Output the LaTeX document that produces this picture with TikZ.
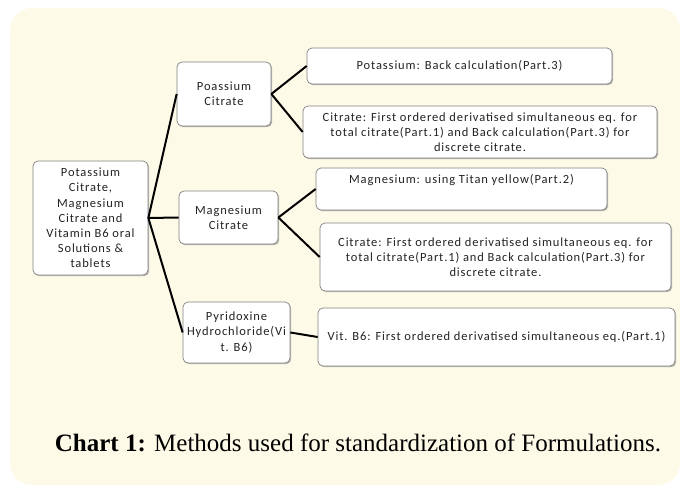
\documentclass[tikz,border=0pt]{standalone}
\usepackage{fontspec}
\setmainfont{Liberation Serif}
\newfontfamily\boxfont[LetterSpace=7]{Carlito}
\usetikzlibrary{positioning, shadows}
\definecolor{chartbg}{RGB}{254,250,232}
\definecolor{boxline}{RGB}{130,130,130}
\definecolor{boxtext}{RGB}{35,35,35}
\tikzset{main node/.style={rectangle, rounded corners=5pt, draw=boxline, line width=0.7pt, fill=white, align=center, inner sep=1pt, text=boxtext, font=\boxfont\fontsize{12.5}{15.2}\selectfont, drop shadow={shadow xshift=1.2pt, shadow yshift=-1.2pt, fill=black!45, opacity=0.6}},}

\begin{document}
\begin{tikzpicture}[x=1pt, y=-1pt, thick]
        \useasboundingbox (0,0) rectangle (690,494);
        \fill[chartbg, rounded corners=22pt] (10,8) rectangle (680,485);
        % Formulation
        \node[main node, minimum width=115pt, minimum height=114pt] (form) at (90.5,218) {Potassium\\Citrate,\\Magnesium\\Citrate and\\Vitamin B6 oral\\Solutions \&\\tablets};
        % Components
        \node[main node, minimum width=94pt, minimum height=64pt] (pota) at (224,94) {Poassium\\Citrate};
        \node[main node, minimum width=99pt, minimum height=53pt] (magn) at (228.5,217.5) {Magnesium\\Citrate};
        \node[main node, minimum width=107pt, minimum height=61pt] (pyri) at (236.5,332.5) {Pyridoxine\\Hydrochloride(Vi\\t. B6)};
        % Methods
        \node[main node, minimum width=305pt, minimum height=36pt] (potback) at (459.5,66) {Potassium: Back calculation(Part.3)};
        \node[main node, minimum width=354pt, minimum height=52pt] (citone) at (480,132) {Citrate: First ordered derivatised simultaneous eq. for\\total citrate(Part.1) and Back calculation(Part.3) for\\discrete citrate.};
        \node[main node, minimum width=291pt, minimum height=42pt] (magtitan) at (461.5,189) {Magnesium: using Titan yellow(Part.2)\\\strut};
        \node[main node, minimum width=351pt, minimum height=68pt] (cittwo) at (495.5,257) {Citrate: First ordered derivatised simultaneous eq. for\\total citrate(Part.1) and Back calculation(Part.3) for\\discrete citrate.};
        \node[main node, minimum width=357pt, minimum height=58pt] (vitb) at (496.5,337) {Vit. B6: First ordered derivatised simultaneous eq.(Part.1)};
        % Caption
        \node (caption) at (358,443) {\fontsize{25}{28}\selectfont\textbf{Chart 1:} Methods used for standardization of Formulations.};
        % Paths
        \path[draw, line width=2pt]
        (form.east) edge (pota.west)
        (form.east) edge (magn.west)
        (form.east) edge (pyri.west)
        (pota.east) edge (potback.west)
        (pota.east) edge (citone.west)
        (magn.east) edge (magtitan.west)
        (magn.east) edge (cittwo.west)
        (pyri.east) edge (vitb.west);
    \end{tikzpicture}
\end{document}
